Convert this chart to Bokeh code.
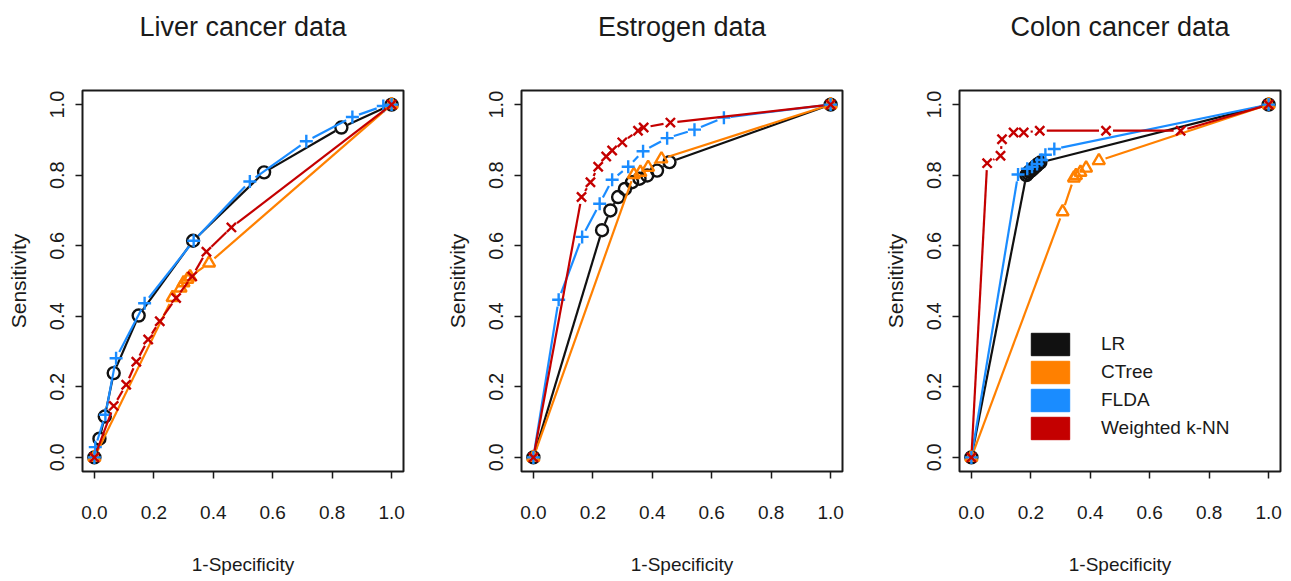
from bokeh.plotting import figure
from bokeh.models import FixedTicker, PrintfTickFormatter, Legend, LegendItem, Title
from bokeh.layouts import row
from bokeh.embed import file_html
from bokeh.resources import INLINE

# ---------------- data ----------------
titles = ["Liver cancer data", "Estrogen data", "Colon cancer data"]
methods = ["LR", "CTree", "FLDA", "Weighted k-NN"]
ticks = [0.0, 0.2, 0.4, 0.6, 0.8, 1.0]
x_label = "1-Specificity"
y_label = "Sensitivity"

# Liver cancer
liver_lr_x = [0.0, 0.017, 0.035, 0.065, 0.149, 0.332, 0.571, 0.831, 1.0]
liver_lr_y = [0.0, 0.053, 0.116, 0.239, 0.402, 0.614, 0.808, 0.935, 1.0]
liver_ct_x = [0.0, 0.263, 0.290, 0.300, 0.313, 0.322, 0.386, 1.0]
liver_ct_y = [0.0, 0.453, 0.480, 0.495, 0.505, 0.512, 0.551, 1.0]
liver_fl_x = [0.0, 0.003, 0.037, 0.073, 0.169, 0.334, 0.523, 0.713, 0.868, 0.972, 1.0]
liver_fl_y = [0.0, 0.029, 0.121, 0.281, 0.437, 0.614, 0.782, 0.896, 0.965, 0.996, 1.0]
liver_kn_x = [0.0, 0.065, 0.107, 0.141, 0.181, 0.220, 0.275, 0.329, 0.377, 0.461, 1.0]
liver_kn_y = [0.0, 0.146, 0.206, 0.271, 0.334, 0.386, 0.452, 0.513, 0.583, 0.652, 1.0]

# Estrogen
estr_lr_x = [0.0, 0.231, 0.259, 0.285, 0.308, 0.332, 0.357, 0.383, 0.416, 0.458, 1.0]
estr_lr_y = [0.0, 0.644, 0.700, 0.738, 0.761, 0.780, 0.790, 0.799, 0.813, 0.837, 1.0]
estr_ct_x = [0.0, 0.338, 0.360, 0.386, 0.431, 1.0]
estr_ct_y = [0.0, 0.802, 0.808, 0.822, 0.846, 1.0]
estr_fl_x = [0.0, 0.085, 0.164, 0.223, 0.265, 0.319, 0.369, 0.450, 0.542, 0.641, 1.0]
estr_fl_y = [0.0, 0.447, 0.625, 0.719, 0.787, 0.824, 0.868, 0.905, 0.929, 0.963, 1.0]
estr_kn_x = [0.0, 0.162, 0.192, 0.218, 0.245, 0.265, 0.299, 0.352, 0.371, 0.461, 1.0]
estr_kn_y = [0.0, 0.738, 0.780, 0.824, 0.853, 0.870, 0.893, 0.926, 0.935, 0.949, 1.0]

# Colon cancer
colon_lr_x = [0.0, 0.185, 0.190, 0.195, 0.200, 0.205, 0.210, 0.215, 0.220, 0.225, 0.232, 1.0]
colon_lr_y = [0.0, 0.800, 0.805, 0.810, 0.812, 0.816, 0.820, 0.824, 0.828, 0.832, 0.836, 1.0]
colon_ct_x = [0.0, 0.307, 0.345, 0.352, 0.367, 0.386, 0.429, 1.0]
colon_ct_y = [0.0, 0.696, 0.792, 0.799, 0.808, 0.820, 0.841, 1.0]
colon_fl_x = [0.0, 0.157, 0.188, 0.204, 0.221, 0.236, 0.249, 0.279, 1.0]
colon_fl_y = [0.0, 0.802, 0.818, 0.824, 0.832, 0.843, 0.858, 0.874, 1.0]
colon_kn_x = [0.0, 0.053, 0.098, 0.103, 0.142, 0.176, 0.230, 0.453, 0.704, 1.0]
colon_kn_y = [0.0, 0.834, 0.855, 0.902, 0.921, 0.921, 0.926, 0.926, 0.926, 1.0]

panels = [
    [(liver_lr_x, liver_lr_y), (liver_ct_x, liver_ct_y), (liver_fl_x, liver_fl_y), (liver_kn_x, liver_kn_y)],
    [(estr_lr_x, estr_lr_y), (estr_ct_x, estr_ct_y), (estr_fl_x, estr_fl_y), (estr_kn_x, estr_kn_y)],
    [(colon_lr_x, colon_lr_y), (colon_ct_x, colon_ct_y), (colon_fl_x, colon_fl_y), (colon_kn_x, colon_kn_y)],
]

# ---------------- style ----------------
colors = ["#111111", "#FF8000", "#1A8CFF", "#C40000"]
markers = ["circle", "triangle", "cross", "x"]
msizes = [12, 12, 13, 13]
TXT = "#1a1a1a"
SANS = "Liberation Sans"
FW, FH = 321, 381
XR = (-0.04, 1.04)
YR = (-0.04, 1.04)
GAP = 7.0  # px gap around points (R type="b")
LEFT = 82
right_borders = [36, 35, 3]


def gap_segments(xs, ys):
    sx = FW / (XR[1] - XR[0])
    sy = FH / (YR[1] - YR[0])
    x0, y0, x1, y1 = [], [], [], []
    for i in range(len(xs) - 1):
        dx = (xs[i + 1] - xs[i]) * sx
        dy = (ys[i + 1] - ys[i]) * sy
        L = (dx * dx + dy * dy) ** 0.5
        if L <= 2 * GAP:
            continue
        f = GAP / L
        x0.append(xs[i] + (xs[i + 1] - xs[i]) * f)
        y0.append(ys[i] + (ys[i + 1] - ys[i]) * f)
        x1.append(xs[i + 1] - (xs[i + 1] - xs[i]) * f)
        y1.append(ys[i + 1] - (ys[i + 1] - ys[i]) * f)
    return x0, y0, x1, y1


figs = []
for k, (title, series) in enumerate(zip(titles, panels)):
    p = figure(frame_width=FW, frame_height=FH,
               x_range=XR, y_range=YR,
               output_backend="svg", toolbar_location=None,
               min_border_left=LEFT, min_border_right=right_borders[k],
               min_border_top=90, min_border_bottom=104,
               title=title)
    p.title.text_font = SANS
    p.title.text_font_size = "27px"
    p.title.text_font_style = "normal"
    p.title.text_color = TXT
    p.title.align = "center"
    p.title.standoff = 0
    p.title.vertical_align = "bottom"
    # spacer between the title and the frame
    p.add_layout(Title(text=" ", text_font_size="1px", standoff=46), "above")

    p.grid.visible = False
    p.outline_line_color = TXT
    p.outline_line_width = 2
    p.outline_line_alpha = 1.0
    p.background_fill_color = "white"
    p.border_fill_color = "white"

    for ax in (p.xaxis[0], p.yaxis[0]):
        ax.ticker = FixedTicker(ticks=ticks)
        ax.formatter = PrintfTickFormatter(format="%.1f")
        ax.axis_line_color = None
        ax.major_tick_in = 0
        ax.major_tick_out = 7
        ax.major_tick_line_width = 1.5
        ax.major_tick_line_color = TXT
        ax.minor_tick_line_color = None
        ax.major_label_text_color = TXT
        ax.axis_label_text_color = TXT
        ax.axis_label_text_font_style = "normal"
    p.xaxis.axis_label = x_label
    p.xaxis.axis_label_text_font = SANS
    p.xaxis.axis_label_text_font_size = "19px"
    p.xaxis.major_label_text_font = SANS
    p.xaxis.major_label_text_font_size = "19px"
    p.xaxis.major_label_standoff = 27
    p.xaxis.axis_label_standoff = 32

    p.yaxis.axis_label = y_label
    p.yaxis.axis_label_text_font = SANS
    p.yaxis.axis_label_text_font_size = "21px"
    p.yaxis.major_label_text_font = SANS
    p.yaxis.major_label_text_font_size = "20px"
    p.yaxis.major_label_orientation = "vertical"
    p.yaxis.major_label_standoff = 11
    p.yaxis.axis_label_standoff = 18

    for j, (xs, ys) in enumerate(series):
        x0, y0, x1, y1 = gap_segments(xs, ys)
        p.segment(x0=x0, y0=y0, x1=x1, y1=y1, line_color=colors[j], line_width=2.2)
        p.scatter(xs, ys, marker=markers[j], size=msizes[j], line_color=colors[j],
                  fill_color=None, line_width=2.4)

    if k == 2:
        items = []
        nan = float("nan")
        for j, m in enumerate(methods):
            r = p.quad(left=[nan], right=[nan], top=[nan], bottom=[nan],
                       fill_color=colors[j], line_color=colors[j])
            items.append(LegendItem(label=m, renderers=[r]))
        leg = Legend(items=items, location=(67, 29), glyph_width=48, glyph_height=28,
                     label_height=28, spacing=0, padding=0, margin=0,
                     border_line_color=None, background_fill_alpha=0,
                     label_standoff=27, label_text_font=SANS,
                     label_text_font_size="19px", label_text_color=TXT)
        p.add_layout(leg)
    figs.append(p)

layout = row(*figs)
open("out.html", "w").write(file_html(layout, INLINE))
